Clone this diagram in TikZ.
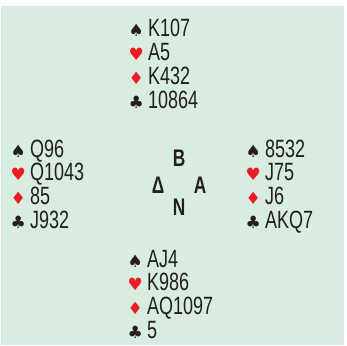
\documentclass[tikz,border=0pt]{standalone}
\usepackage{fontspec}
\setmainfont{Liberation Sans}[FakeStretch=0.72]
\newfontfamily\suitfont{DejaVu Sans}
\definecolor{feltgreen}{HTML}{D9ECE0}
\definecolor{suitred}{HTML}{EC1C24}
\definecolor{inkblack}{HTML}{231F20}
\tikzset{cards/.style={font=\fontsize{25}{25}\selectfont, text=inkblack, anchor=base west, inner sep=0pt}}
\tikzset{seat/.style={font=\bfseries\fontsize{24}{24}\selectfont, text=inkblack, anchor=base, inner sep=0pt}}
\newcommand{\pip}[2]{\makebox[12pt][c]{\suitfont\fontsize{17}{17}\selectfont\color{#1}#2}\hspace{6pt}}
\newcommand{\spd}{\pip{inkblack}{♠}}
\newcommand{\hrt}{\pip{suitred}{♥}}
\newcommand{\dmd}{\pip{suitred}{♦}}
\newcommand{\clb}{\pip{inkblack}{♣}}

\begin{document}
\begin{tikzpicture}[x=1pt,y=-1pt]
  \useasboundingbox (0,0) rectangle (347,345);
  \fill[feltgreen] (1,6) rectangle (344,345);
  % north
  \node[cards] (N1) at (130,37) {\spd K107};
  \node[cards] (N2) at (130,60.7) {\hrt A5};
  \node[cards] (N3) at (130,84.4) {\dmd K432};
  \node[cards] (N4) at (130,108.1) {\clb 10864};
  % west
  \node[cards] (W1) at (12,157) {\spd Q96};
  \node[cards] (W2) at (12,180.7) {\hrt Q1043};
  \node[cards] (W3) at (12,204.4) {\dmd 85};
  \node[cards] (W4) at (12,228.1) {\clb J932};
  % east
  \node[cards] (E1) at (247,157) {\spd 8532};
  \node[cards] (E2) at (247,180.7) {\hrt J75};
  \node[cards] (E3) at (247,204.4) {\dmd J6};
  \node[cards] (E4) at (247,228.1) {\clb AKQ7};
  % south
  \node[cards] (S1) at (129,267) {\spd AJ4};
  \node[cards] (S2) at (129,290.7) {\hrt K986};
  \node[cards] (S3) at (129,314.4) {\dmd AQ1097};
  \node[cards] (S4) at (129,338.1) {\clb 5};
  % compass
  \node[seat] (vor) at (179,166) {Β};
  \node[seat] (dys) at (158,193) {Δ};
  \node[seat] (ana) at (200,193) {Α};
  \node[seat] (not) at (179,215) {Ν};
\end{tikzpicture}
\end{document}
